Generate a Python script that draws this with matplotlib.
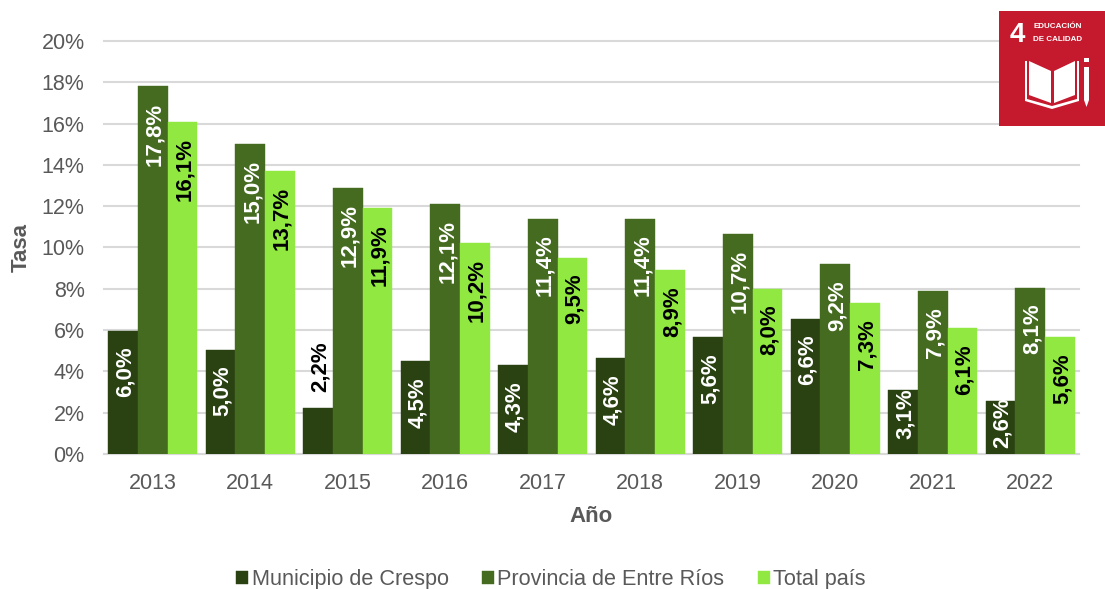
import matplotlib
matplotlib.use("Agg")
import matplotlib.pyplot as plt
from matplotlib.patches import Rectangle, Polygon
import numpy as np

plt.rcParams['font.family'] = ['Liberation Sans', 'DejaVu Sans']

years = ['2013', '2014', '2015', '2016', '2017', '2018', '2019', '2020', '2021', '2022']
crespo = [5.97, 5.05, 2.25, 4.5, 4.3, 4.65, 5.65, 6.55, 3.1, 2.55]
entre_rios = [17.8, 15.0, 12.9, 12.1, 11.4, 11.4, 10.65, 9.2, 7.9, 8.05]
pais = [16.1, 13.7, 11.9, 10.2, 9.5, 8.9, 8.0, 7.3, 6.1, 5.65]
crespo_lbl = ['6,0%', '5,0%', '2,2%', '4,5%', '4,3%', '4,6%', '5,6%', '6,6%', '3,1%', '2,6%']
entre_lbl = ['17,8%', '15,0%', '12,9%', '12,1%', '11,4%', '11,4%', '10,7%', '9,2%', '7,9%', '8,1%']
pais_lbl = ['16,1%', '13,7%', '11,9%', '10,2%', '9,5%', '8,9%', '8,0%', '7,3%', '6,1%', '5,6%']
names = ['Municipio de Crespo', 'Provincia de Entre Ríos', 'Total país']
colors = ['#2a4212', '#456b20', '#90e840']
label_colors = ['white', 'white', 'black']

W, H = 1105, 589
fig = plt.figure(figsize=(W / 100, H / 100), dpi=100)
ax = fig.add_axes([104 / W, 1 - 454 / H, (1079 - 104) / W, (454 - 41) / H])

x = np.arange(len(years))
bw = 0.305
series = [crespo, entre_rios, pais]
labels = [crespo_lbl, entre_lbl, pais_lbl]
for k, (vals, lbls, c, lc) in enumerate(zip(series, labels, colors, label_colors)):
    pos = x + (k - 1) * bw
    ax.bar(pos, vals, bw, color=c, label=names[k], zorder=3, edgecolor=c, linewidth=0.3)
    for p, v, t in zip(pos, vals, lbls):
        col = lc
        va = 'top'
        dy = -16
        if k == 0 and t == '2,2%':
            col = 'black'
            dy = 16
            va = 'bottom'
        elif k == 0 and t == '3,1%':
            dy = 2
        elif k == 0 and t == '2,6%':
            dy = 4
        ax.annotate(t, (p, v), xytext=(1.5, dy * 0.72), textcoords='offset points',
                    rotation=90, ha='center', va=va, color=col, fontsize=16,
                    fontweight='bold', zorder=5)

ax.set_xlim(-0.5, len(years) - 0.5)
ax.set_ylim(0, 20)
yt = np.arange(0, 21, 2)
ax.set_yticks(yt)
ax.set_yticklabels([f'{v}%' for v in yt])
ax.set_xticks(x)
ax.set_xticklabels(years)
ax.tick_params(axis='both', length=0, labelsize=15.5, labelcolor='#595959')
ax.tick_params(axis='y', pad=14)
ax.tick_params(axis='x', pad=14)
ax.grid(axis='y', color='#d9d9d9', linewidth=1.5, zorder=0, clip_on=False)
ax.set_axisbelow(True)
for s in ['top', 'right', 'left']:
    ax.spines[s].set_visible(False)
ax.spines['bottom'].set_color('#d9d9d9')
ax.spines['bottom'].set_linewidth(1.5)

fig.text(591 / W, 1 - 517 / H, 'Año', ha='center', va='center', fontsize=16,
         fontweight='bold', color='#595959')
fig.text(21 / W, 1 - 247 / H, 'Tasa', ha='center', va='center', rotation=90,
         fontsize=16, fontweight='bold', color='#595959')

ax.legend(loc='center', bbox_to_anchor=(551 / W, 1 - 579.5 / H), bbox_transform=fig.transFigure,
          ncol=3, frameon=False, fontsize=15.6, labelcolor='#595959', handlelength=0.55,
          handleheight=0.55, handletextpad=0.15, columnspacing=1.55, borderpad=0, borderaxespad=0)

# SDG 4 logo
def P(px, py):
    return (px / W, 1 - py / H)
red = '#c5192d'
fig.add_artist(Rectangle(P(999, 126), 106 / W, 115 / H, transform=fig.transFigure,
                         facecolor=red, edgecolor='none', zorder=10))
fig.text(1017 / W, 1 - 35 / H, '4', ha='center', va='center', fontsize=20, fontweight='bold',
         color='white', zorder=11)
fig.text(1033 / W, 1 - 26.5 / H, 'EDUCACIÓN', ha='left', va='center', fontsize=5.8,
         fontweight='bold', color='white', zorder=11)
fig.text(1033 / W, 1 - 39.5 / H, 'DE CALIDAD', ha='left', va='center', fontsize=5.8,
         fontweight='bold', color='white', zorder=11)
for pts in [
    [(1029, 61), (1051, 71), (1051, 103), (1029, 95)],
    [(1054, 71), (1075, 61), (1075, 95), (1054, 103)],
]:
    fig.add_artist(Polygon([P(*q) for q in pts], closed=True, transform=fig.transFigure,
                           facecolor='white', edgecolor='none', zorder=11))
fig.add_artist(Polygon([P(*q) for q in [(1025, 61), (1027, 61), (1027, 99), (1052, 106), (1077, 99),
                                        (1077, 61), (1079, 61), (1079, 101), (1052, 109), (1025, 101)]],
                       closed=True, transform=fig.transFigure, facecolor='white', edgecolor='none', zorder=11))
fig.add_artist(Rectangle(P(1084, 62), 5 / W, 4 / H, transform=fig.transFigure,
                         facecolor='white', edgecolor='none', zorder=11))
fig.add_artist(Polygon([P(*q) for q in [(1084, 67), (1089, 67), (1089, 100), (1086.5, 107), (1084, 100)]],
                       closed=True, transform=fig.transFigure, facecolor='white', edgecolor='none', zorder=11))

fig.savefig('out.png', dpi=100, facecolor='white')
